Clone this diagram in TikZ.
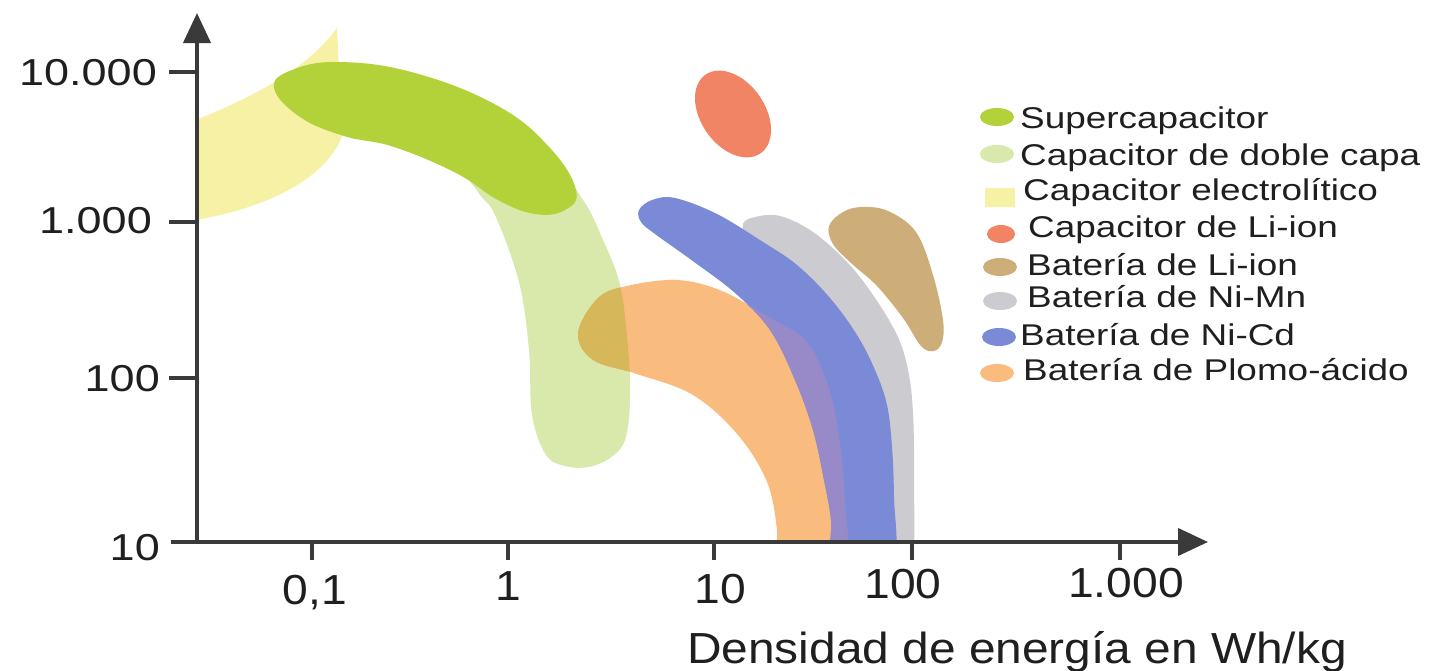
\documentclass[tikz,border=0pt]{standalone}
\usepackage{fontspec}
\setmainfont{Liberation Sans}
\newfontfamily\lgdfont[FakeStretch=1.23]{Liberation Sans}
\newfontfamily\ylabfont[FakeStretch=1.2]{Liberation Sans}
\newfontfamily\xlabfont[FakeStretch=1.1]{Liberation Sans}
\usetikzlibrary{arrows.meta,shapes.geometric}
\definecolor{cYel}{HTML}{F7F1A6}
\definecolor{cGreen}{HTML}{B3D23A}
\definecolor{cLG}{HTML}{D9E8AB}
\definecolor{cOr}{HTML}{FABC7E}
\definecolor{cOlive}{HTML}{D6B75A}
\definecolor{cBlue}{HTML}{7B8AD6}
\definecolor{cPur}{HTML}{988AC8}
\definecolor{cGray}{HTML}{CBCBD0}
\definecolor{cTan}{HTML}{CDAD78}
\definecolor{cSal}{HTML}{F28466}
\definecolor{cAxis}{HTML}{3A3A3A}
\def\pYel{(196,120) .. controls (245,100) and (305,72) .. (337,28) -- (339,70) -- (346,120) .. controls (340,170) and (280,205) .. (196,220) -- cycle}
\def\pGreen{plot[smooth cycle, tension=0.7] coordinates {(274,88) (292,70) (340,62) (415,73) (498,106) (550,148) (576,190) (565,210) (535,214) (498,200) (456,173) (394,147) (344,136) (300,117)}}
\def\pLG{plot[smooth cycle, tension=0.6] coordinates {(455,150) (555,175) (583,200) (603,240) (620,285) (628,347) (630,400) (625,440) (610,458) (588,467) (565,466) (546,455) (532,415) (529,350) (519,282) (495,215) (478,192)}}
\def\pOr{plot[smooth cycle, tension=0.6] coordinates {(578,333) (598,298) (627,286) (677,280) (722,291) (770,318) (807,342) (830,392) (841,452) (845,505) (846,560) (810,575) (777,560) (777,530) (767,482) (738,435) (693,395) (637,374) (593,360)}}
\def\pBl{plot[smooth cycle, tension=0.6] coordinates {(639,210) (652,200) (675,198) (717,214) (763,242) (797,265) (830,298) (857,335) (875,370) (887,405) (892,447) (894,497) (894,560) (860,575) (832,560) (831,520) (824,480) (813,430) (795,380) (770,330) (735,293) (690,259) (655,234) (641,222)}}
\def\pGray{plot[smooth cycle, tension=0.6] coordinates {(743,224) (755,217) (780,216) (813,232) (847,262) (873,295) (897,335) (908,370) (913,413) (914,480) (912,560) (890,575) (872,560) (880,450) (870,380) (845,330) (812,287) (772,256) (748,240)}}
\def\pTan{plot[smooth cycle, tension=0.6] coordinates {(829,226) (843,212) (862,207) (888,211) (916,232) (933,275) (943,320) (942,342) (934,351) (921,346) (903,318) (877,286) (851,263) (833,244)}}
\begin{document}
\begin{tikzpicture}[x=1pt,y=-1pt,
  axis/.style={draw=cAxis, line width=4pt},
  tip/.style={-{Triangle[width=27pt,length=30pt]}},
  lgd/.style={font=\lgdfont\fontsize{30}{36}\selectfont, inner sep=0pt, text=black!88, anchor=base west},
  ylab/.style={font=\ylabfont\fontsize{37.5}{45}\selectfont, inner sep=0pt, text=black!88, anchor=base east},
  xlab/.style={font=\xlabfont\fontsize{42}{50}\selectfont, inner sep=0pt, text=black!88, anchor=base},
  swatch/.style={ellipse, inner sep=0pt, minimum width=34pt, minimum height=18pt}
]
\useasboundingbox (0,0) rectangle (1433,670);
\fill[white] (0,0) rectangle (1433,670);
% regions
\begin{scope}
\clip (197,0) rectangle (1433,542);
\fill[cYel] \pYel;
\fill[cLG] \pLG;
\fill[cGreen] \pGreen;
\fill[cGray] \pGray;
\fill[cOr] \pOr;
\begin{scope}\clip \pLG; \fill[cOlive] \pOr; \end{scope}
\fill[cBlue] \pBl;
\begin{scope}\clip \pBl; \fill[cPur] \pOr; \end{scope}
\fill[cTan] \pTan;
\begin{scope}[shift={(733,114)}, rotate=-55]
\fill[cSal] (0,0) ellipse [x radius=48pt, y radius=32pt];
\end{scope}
\end{scope}
% axes
\coordinate (O) at (197,542);
\coordinate (Ytop) at (197,13);
\coordinate (Xs) at (171,542);
\coordinate (Xe) at (1208,542);
\draw[axis, tip] (O) -- (Ytop);
\draw[axis, tip] (Xs) -- (Xe);
\foreach \yy in {72,222,378} { \draw[axis] (169,\yy) -- (197,\yy); }
\foreach \xx in {312,508,714,912,1120} { \draw[axis] (\xx,542) -- (\xx,560); }
% y labels
\node[ylab] (y4) at (157,85) {10.000};
\node[ylab] (y3) at (152,233) {1.000};
\node[ylab] (y2) at (160,391) {100};
\node[ylab] (y1) at (160,560) {10};
% x labels
\node[xlab] (x1) at (315,604) {0,1};
\node[xlab] (x2) at (508,600) {1};
\node[xlab] (x3) at (720,603) {10};
\node[xlab] (x4) at (903,598) {100};
\node[xlab] (x5) at (1126,597) {1.000};
\node[font=\xlabfont\fontsize{43.5}{52}\selectfont, inner sep=0pt, text=black!88, anchor=base west] (title) at (687,663) {Densidad de energía en Wh/kg};
% legend
\node[swatch, fill=cGreen] (s1) at (997,117) {};
\node[swatch, fill=cLG] (s2) at (997,154) {};
\node[rectangle, inner sep=0pt, minimum width=30pt, minimum height=19pt, fill=cYel] (s3) at (1000,197) {};
\node[swatch, fill=cSal, minimum width=28pt] (s4) at (1001,234) {};
\node[swatch, fill=cTan] (s5) at (1000,267) {};
\node[swatch, fill=cGray] (s6) at (1000,301) {};
\node[swatch, fill=cBlue] (s7) at (999,337) {};
\node[swatch, fill=cOr] (s8) at (997,373) {};
\node[lgd] (l1) at (1020,128) {Supercapacitor};
\node[lgd] (l2) at (1020,165) {Capacitor de doble capa};
\node[lgd] (l3) at (1023,200) {Capacitor electrolítico};
\node[lgd] (l4) at (1028,237) {Capacitor de Li-ion};
\node[lgd] (l5) at (1027,275) {Batería de Li-ion};
\node[lgd] (l6) at (1027,307) {Batería de Ni-Mn};
\node[lgd] (l7) at (1020,345) {Batería de Ni-Cd};
\node[lgd] (l8) at (1023,380) {Batería de Plomo-ácido};
\end{tikzpicture}
\end{document}
